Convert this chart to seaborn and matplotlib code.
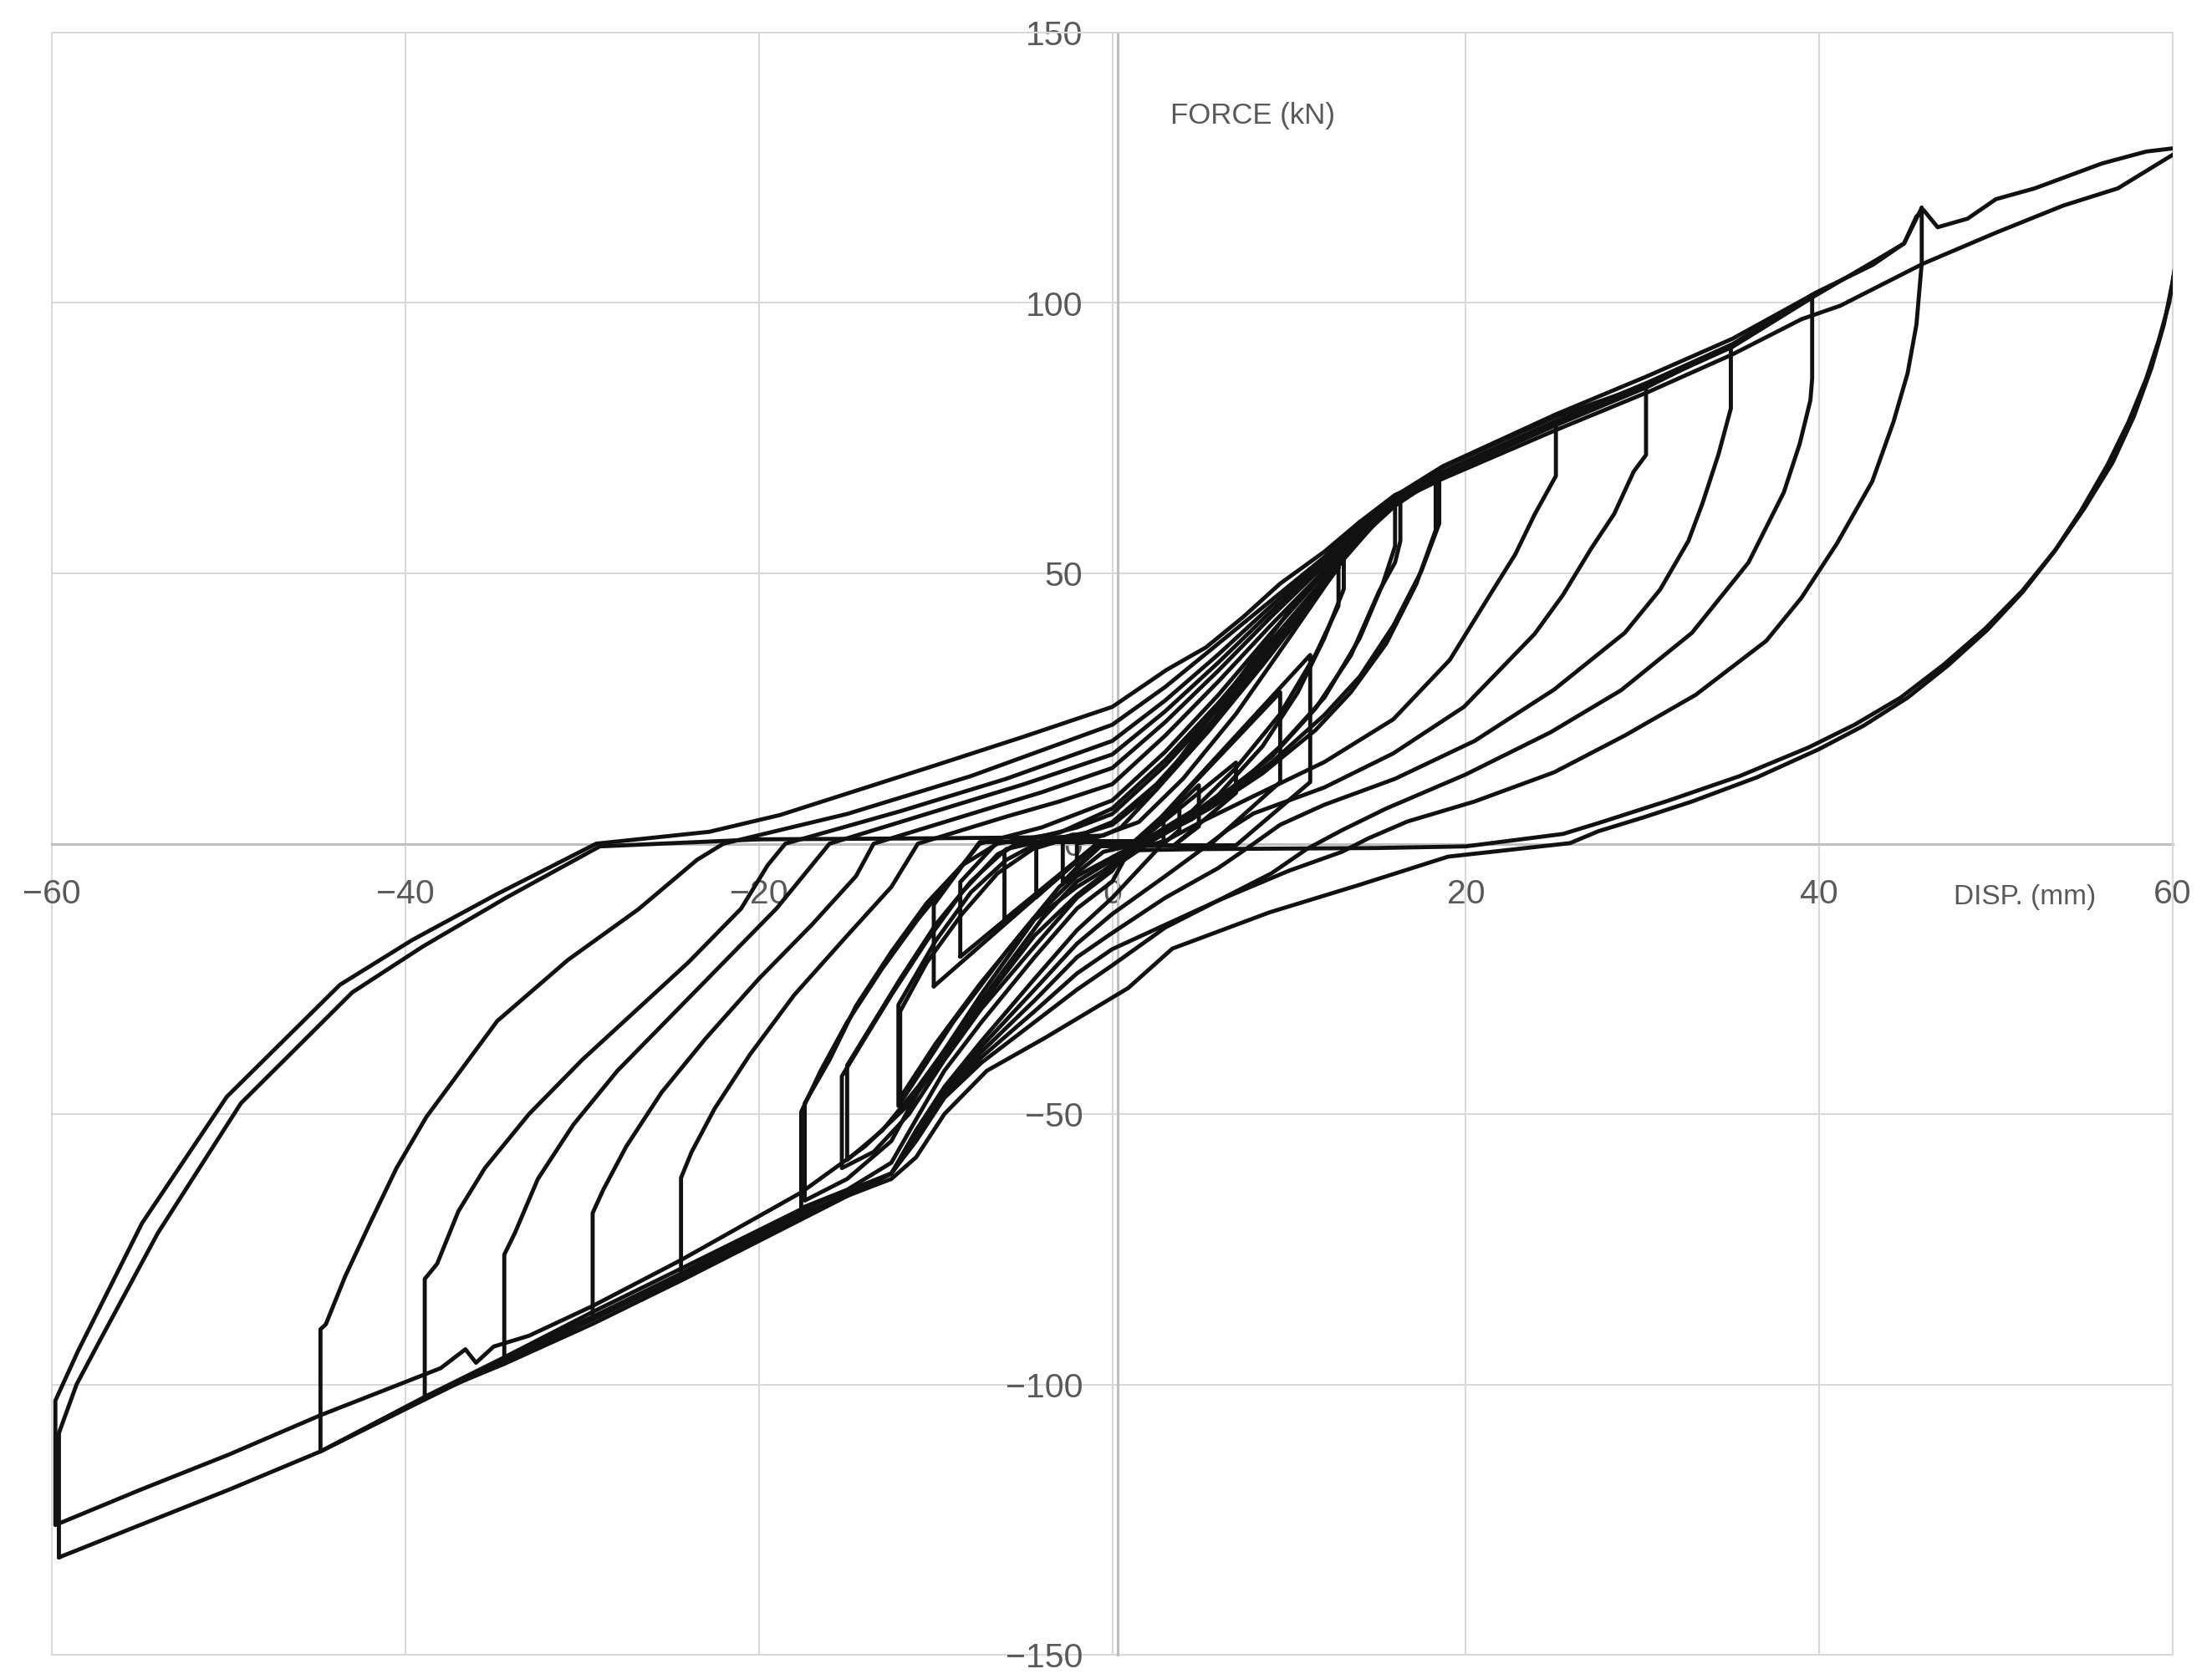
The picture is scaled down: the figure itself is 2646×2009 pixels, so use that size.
import numpy as np
import pandas as pd
import matplotlib
matplotlib.use("Agg")
import matplotlib.pyplot as plt
import seaborn as sns

# ---------------- data ----------------
x_ticks = [-60, -40, -20, 0, 20, 40, 60]
y_ticks = [-150, -100, -50, 0, 50, 100, 150]
x_label = "DISP. (mm)"
y_label = "FORCE (kN)"

# first 60 mm cycle
x60a = [-59.6, -59.6, -58.6, -57.3, -54.0, -49.3, -43.0, -39.0, -34.3, -29.0, -20.0, -10.0, -3.0, -0.5, 0.5, 2.5, 5.0, 7.5, 10.0, 12.0, 14.0, 16.0, 18.7, 25.1, 30.3, 35.1, 39.8, 43.0, 44.8, 45.5, 45.9, 46.7, 48.4, 50.0, 52.2, 56.0, 58.5, 60.3,
        60.3, 60.1, 59.8, 59.2, 58.5, 57.5, 56.3, 54.8, 53.3, 51.5, 49.5, 47.3, 45.0, 42.5, 40.0, 36.5, 32.8, 30.0, 27.5, 25.9,
        19.0, 14.0, 8.9, 3.4, 0.9, -1.7, -3.8, -7.1, -9.5, -11.1, -12.5, -17.6, -24.4, -29.4, -34.4, -38.9, -44.8, -50.0, -55.0, -59.6]
y60a = [-132, -109, -100, -92, -72, -48, -27.5, -19, -10, -0.5, 0.8, 1.0, 1.2, 1.5, 3, 10, 21, 32, 43, 50.6, 58, 64, 68.8, 78.2, 85.3, 92.4, 101.9, 107, 111, 116, 117.2, 114, 115.6, 119.2, 121.2, 125.8, 128, 128.7,
        112.5, 106, 100, 93, 86, 78, 70, 61.5, 54, 46.5, 39.5, 33, 27, 21.8, 17.5, 12.3, 7.8, 4.8, 2.3, 0.1,
        -2.4, -7.6, -12.7, -19.4, -26.7, -31.8, -35.9, -42, -50, -58, -62, -68.4, -79.5, -87.5, -95, -102.3, -112.4, -119.5, -126, -132]

# second 60 mm cycle
x60b = [60.3, 60.3, 60.0, 59.5, 58.8, 57.8, 56.6, 55.0, 53.4, 51.5, 49.4, 47.0, 44.6, 42.0, 39.4, 35.5, 31.5, 27.5, 25.5,
        20.0, 15.0, 10.0, 5.0, 1.5, 0.5, -0.5, -2.0, -4.4, -7.4, -9.5, -11.6, -14.0, -17.6, -24.4, -29.4, -33.0, -35.0, -36.0, -36.6, -38.0, -44.8, -50.0, -55.0, -59.8,
        -59.8, -58.5, -54.9, -50.1, -43.7, -39.6, -34.8, -29.2, -22.8, -18.8, -10.0, -5.0, 0.0, 3.1, 5.3, 7.4, 9.5, 12.0, 14.0, 16.5, 18.7, 25.1, 30.3, 35.1, 39.0, 41.2, 45.9, 50.0, 53.8, 56.9, 60.3]
y60b = [128, 110, 104, 96, 88, 79, 70.5, 62, 54.5, 46.8, 39.8, 33, 27, 22, 17.8, 12.5, 8, 3.8, 1.8,
        -0.5, -0.8, -0.9, -1.0, -1.2, -2.5, -5, -8, -14, -27.8, -38.2, -48.5, -56, -64.5, -77, -85.5, -91, -93, -96, -93.5, -97, -105.7, -113, -119.5, -126,
        -103, -93.7, -70.2, -46.8, -26.1, -17.8, -9.3, 0.0, 2.2, 5.3, 14.5, 19.8, 25.3, 32.2, 36.3, 41.9, 48.1, 54, 59.5, 64, 67.5, 76.5, 83.5, 90.5, 97, 99.5, 107.3, 113, 118, 121.2, 128]

x45 = [45.8, 45.8, 45.5, 45.0, 44.2, 43.0, 41.0, 39.0, 37.0, 33.0, 29.0, 25.0, 20.5, 16.7, 14.5, 13.0, 10.0, 6.0, 3.0, 0.0, -2.0, -4.4, -7.4, -9.5, -11.1, -12.5, -17.6, -24.4, -29.4, -34.4, -38.9, -44.8, -44.8, -44.5, -43.4, -42.0, -40.5, -38.8, -34.8, -30.8, -26.8, -23.5, -22.0, -15.0, -8.0, 0.0, 3.0, 6.0, 9.0, 12.0, 14.0, 16.0, 18.7, 25.1, 30.3, 35.1, 39.8, 43.0, 44.8, 45.8]
y45 = [117.6, 107.4, 96, 87, 78, 67, 55.5, 45.5, 37.5, 27.5, 20, 13.2, 7.8, 4.1, 1.0, -1.5, -5, -10.5, -15.5, -22.5, -27, -33, -40.5, -47, -55, -61, -68.9, -80.0, -88.0, -95.6, -102.8, -112.4, -89.8, -88.9, -80, -70.2, -60, -50.5, -32.8, -21.5, -12.1, -3, 0, 5.5, 12.5, 22, 29, 37, 45, 53, 59.5, 64.5, 68.3, 77.7, 84.8, 91.9, 101.4, 107.5, 111, 117.6]

x40 = [39.6, 39.6, 39.5, 38.9, 38.0, 36.0, 32.8, 28.8, 24.8, 20.0, 15.5, 13.0, 11.0, 9.0, 6.0, 3.0, 0.0, -2.0, -4.4, -7.4, -9.5, -11.1, -12.5, -17.6, -24.4, -29.4, -34.4, -38.9, -38.9, -38.2, -37.0, -35.5, -33.0, -30.0, -27.0, -24.0, -21.0, -19.5, -18.5, -12.0, -6.0, 0.0, 3.0, 6.0, 9.0, 12.0, 14.0, 16.0, 18.7, 25.1, 30.3, 35.1, 39.6]
y40 = [101.5, 86, 82, 74, 65, 52, 39, 28.4, 20.6, 12.8, 6.5, 2.5, -1, -5.5, -10.5, -15, -19.5, -24, -31, -39.5, -46.5, -54.5, -61, -69.5, -80.8, -88.8, -96.2, -102.3, -80.5, -77.7, -68, -60, -50, -40, -31, -22, -12, -4, 0, 6, 12, 19, 26.5, 35, 44, 52.5, 59, 64.3, 69.8, 79.4, 86.5, 93.4, 101.5]

x35 = [35.0, 35.0, 34.3, 33.4, 32.6, 31.0, 29.0, 25.0, 20.5, 16.0, 12.0, 9.5, 8.0, 6.0, 3.0, 0.0, -2.0, -4.4, -7.4, -9.5, -11.1, -12.5, -17.6, -24.4, -29.4, -34.4, -34.4, -33.8, -32.5, -30.5, -28.0, -25.0, -22.0, -19.0, -17.0, -16.0, -10.0, -5.0, 0.0, 3.0, 6.0, 9.0, 12.0, 14.0, 16.0, 18.7, 25.1, 30.3, 35.0]
y35 = [92.2, 80.5, 72, 63, 56, 47, 39, 28.5, 19, 12, 7.2, 3.5, 0, -4.5, -10, -16.5, -21, -29, -38.5, -46, -54, -61, -67.6, -78.6, -86.6, -95, -76, -72, -62, -52, -42, -32, -22, -12, -4, 0, 6, 11, 16.5, 24.5, 33.5, 43, 52, 58.5, 64, 68.1, 77.4, 84.5, 92.2]

x30 = [30.2, 30.2, 29.5, 28.4, 27.1, 25.5, 23.9, 19.9, 15.9, 12.0, 8.0, 6.5, 5.5, 3.0, 0.0, -2.0, -4.4, -7.4, -9.5, -11.1, -12.5, -17.6, -24.4, -29.4, -29.4, -28.8, -27.5, -25.5, -23.0, -20.0, -17.0, -14.5, -13.5, -8.0, -4.0, 0.0, 3.0, 6.0, 9.0, 12.0, 14.0, 16.0, 18.7, 25.1, 30.2]
y30 = [84.8, 71.9, 68.8, 61, 54.6, 46, 38.8, 25.3, 16.7, 10.4, 5.6, 2.5, 0, -6, -13, -18.5, -27, -37.5, -45.5, -53.5, -61, -69.3, -80.4, -87.5, -68.3, -64, -56, -46, -36, -25, -15, -6, 0, 5.5, 9.5, 14, 22.5, 32, 42, 51.5, 58.3, 63.8, 69.6, 79.0, 84.8]

x25 = [25.1, 25.1, 23.9, 22.8, 21.5, 19.1, 15.9, 12.0, 8.0, 5.0, 3.0, 2.0, 0.0, -2.0, -4.4, -7.4, -9.5, -11.1, -12.5, -17.6, -24.4, -24.4, -23.8, -22.5, -20.5, -18.0, -15.0, -12.5, -11.0, -6.0, -3.0, 0.0, 3.0, 6.0, 9.0, 12.0, 14.0, 16.0, 18.7, 25.1]
y25 = [78, 68, 60.9, 53.5, 46.7, 34, 23, 15.1, 8.8, 4, 0.5, -3, -10, -16, -25, -36.5, -45, -53, -61, -67.7, -79.5, -61.8, -57, -49, -39, -28, -17, -8, 0, 5, 7.8, 11, 20, 30, 40.5, 50.5, 57.8, 63.5, 68.2, 78]

x18 = [18.5, 18.5, 17.5, 15.9, 14.0, 12.0, 9.0, 6.0, 3.0, 1.0, 0.0, -2.0, -4.4, -7.4, -9.5, -11.1, -12.5, -15.0, -17.6, -17.6, -16.5, -15.0, -13.0, -11.0, -9.0, -7.5, -4.0, 0.0, 3.0, 6.0, 9.0, 12.0, 14.0, 16.0, 18.5]
y18 = [68.8, 59.2, 50.5, 40.3, 30.9, 23.8, 15, 8, 2.5, -1, -7, -12, -21, -33, -42, -51, -59, -64, -67.4, -49.6, -42, -33, -23, -14, -6, 0, 3, 8, 17, 27.5, 39, 50, 57, 63, 68.8]

x18b = [18.3, 18.3, 17.2, 15.5, 13.5, 11.5, 8.5, 5.5, 2.5, 0.0, -2.0, -4.4, -7.0, -9.0, -11.0, -12.5, -15.0, -17.4, -17.4, -16.0, -14.5, -12.5, -10.5, -8.5, -6.5, -3.0, 0.0, 3.0, 6.0, 9.0, 12.0, 14.0, 16.0, 18.3]
y18b = [67.5, 58, 48, 37, 28, 21, 13, 6.5, 1, -4.5, -9.5, -17, -28, -37, -46, -55, -62, -66, -48, -40, -30, -20, -11, -4, 0, 2, 6.5, 15.5, 26, 37.5, 49, 56.5, 62.5, 67.5]

x16 = [16.3, 16.3, 16.0, 15.1, 13.5, 11.5, 9.0, 6.0, 3.0, 1.0, 0.0, -2.0, -4.4, -7.4, -9.5, -11.5, -13.5, -15.3, -15.3, -14.0, -12.5, -10.5, -8.5, -6.5, -5.0, -2.0, 0.0, 3.0, 6.0, 9.0, 12.0, 14.0, 16.3]
y16 = [64.5, 56, 52, 46.7, 34.8, 25, 16, 8.5, 2.5, -0.5, -5, -10, -19, -30.5, -40, -50, -57, -60, -43, -36, -28, -18, -9, -2, 0.5, 3, 5.5, 14.5, 25, 37, 48.5, 56, 64.5]

x16b = [16.0, 16.0, 15.3, 14.0, 12.0, 9.5, 7.0, 4.5, 2.0, 0.0, -2.0, -4.0, -6.5, -9.0, -11.0, -13.0, -15.0, -15.0, -13.5, -12.0, -10.0, -8.0, -6.0, -4.0, -1.5, 0.0, 2.5, 5.0, 8.0, 11.0, 13.5, 16.0]
y16b = [63.5, 55, 48, 38, 27, 18, 10.5, 4.5, 0.5, -3, -7, -14, -25, -36, -45, -53, -58.5, -41, -33, -25, -15, -7, -1, 0.5, 2, 4, 11, 20, 32, 44.5, 54.5, 63.5]

x13 = [13.1, 13.1, 12.0, 10.5, 8.5, 6.0, 3.5, 1.5, -0.5, -3.0, -6.0, -9.0, -12.1, -12.1, -10.0, -8.0, -6.0, -4.0, -1.0, 1.5, 4.0, 7.0, 10.0, 13.1]
y13 = [52.7, 47.1, 38, 28, 18, 9, 3, 0, -1.5, -8, -20, -33, -48.5, -29.8, -18, -9, -3, 0.5, 1, 4, 12, 24, 38, 52.7]

x13b = [12.8, 12.8, 11.5, 9.5, 7.0, 4.5, 2.0, 0.0, -2.0, -4.5, -7.5, -10.0, -12.0, -12.0, -10.5, -8.5, -6.5, -4.5, -2.0, 0.0, 2.5, 5.5, 8.5, 11.0, 12.8]
y13b = [51, 44, 35, 24, 14, 6, 1, -2.5, -6, -14, -26, -37, -47, -31, -22, -13, -5.5, -1, 1.5, 3.5, 10, 21, 33, 43.5, 51]

x11 = [-10.1, -10.1, -7.5, 1.5, 11.2, 11.2, 7.0, -1.0, -10.1]
y11 = [-26.4, -11.3, 0.3, 0.4, 34.9, 11.4, -0.3, -0.4, -26.4]
x9 = [-8.6, -8.6, -6.5, 1.5, 9.5, 9.5, 5.5, -1.0, -8.6]
y9 = [-20.9, -7.1, 0.3, 0.4, 28, 11.4, -0.3, -0.4, -20.9]
x7 = [-6.1, -6.1, -5.3, 1.5, 7.0, 7.0, 3.5, -1.0, -6.1]
y7 = [-14, -1.5, 0.3, 0.4, 15, 9.4, -0.3, -0.4, -14]
x5 = [-4.3, -4.3, -3.8, 1.5, 4.9, 4.9, 3.5, -1.0, -4.3]
y5 = [-9.9, -0.2, 0.3, 0.4, 10.8, 3.2, -0.3, -0.4, -9.9]
x4 = [-2.8, -2.8, -2.0, 1.5, 3.8, 3.8, 2.8, -0.8, -2.8]
y4 = [-7.1, 0.5, 0.5, 0.4, 6.6, 2.5, -0.3, -0.4, -7.1]
x3 = [-2.0, -2.0, -1.5, 1.2, 2.9, 2.9, 2.2, -0.6, -2.0]
y3 = [-4.5, 0.0, 0.3, 0.3, 5.3, 0.5, -0.3, -0.3, -4.5]

cycles = [
    ("3", x3, y3), ("4", x4, y4), ("5", x5, y5), ("7", x7, y7),
    ("9", x9, y9), ("11", x11, y11), ("13", x13, y13), ("13b", x13b, y13b),
    ("16", x16, y16), ("16b", x16b, y16b), ("18", x18, y18), ("18b", x18b, y18b),
    ("25", x25, y25), ("30", x30, y30), ("35", x35, y35),
    ("40", x40, y40), ("45", x45, y45), ("60a", x60a, y60a), ("60b", x60b, y60b),
]

frames = []
for name, xs, ys in cycles:
    frames.append(pd.DataFrame({"disp": xs, "force": ys, "cycle": name,
                                "step": np.arange(len(xs))}))
df = pd.concat(frames, ignore_index=True)

# ---------------- styling ----------------
sns.set_theme(style="white")
plt.rcParams["font.family"] = ["Liberation Sans", "DejaVu Sans"]
plt.rcParams["axes.unicode_minus"] = True

W, H = 2646, 2009
fig = plt.figure(figsize=(W / 100, H / 100), dpi=100)
x0, x1 = 62, 2599
y0, y1 = 39, 1980
ax = fig.add_axes([x0 / W, 1 - y1 / H, (x1 - x0) / W, (y1 - y0) / H])
ax.set_xlim(-60, 60)
ax.set_ylim(-150, 150)

grid_c = "#d9d9d9"
axis_c = "#bfbfbf"
text_c = "#595959"

ax.set_xticks(x_ticks)
ax.set_yticks(y_ticks)
ax.set_xticklabels([f"{v}".replace("-", "\u2212") for v in x_ticks])
ax.set_yticklabels([f"{v}".replace("-", "\u2212") for v in y_ticks])
ax.grid(True, color=grid_c, linewidth=1.5, zorder=0)
ax.set_axisbelow(True)

for s in ["top", "right"]:
    ax.spines[s].set_color(grid_c)
    ax.spines[s].set_linewidth(1.5)
ax.spines["left"].set_position(("data", 0.3))
ax.spines["bottom"].set_position(("data", 0))
ax.spines["left"].set_color(axis_c)
ax.spines["bottom"].set_color(axis_c)
ax.spines["left"].set_linewidth(2.2)
ax.spines["bottom"].set_linewidth(2.2)
ax.spines["left"].set_zorder(1)
ax.spines["bottom"].set_zorder(1)

# outer frame on the left and bottom
ax.plot([0, 0], [0, 1], transform=ax.transAxes, color=grid_c, lw=1.5, clip_on=False, zorder=0)
ax.plot([0, 1], [0, 0], transform=ax.transAxes, color=grid_c, lw=1.5, clip_on=False, zorder=0)

ax.tick_params(axis="x", length=0, pad=30, labelsize=29.5, labelcolor=text_c)
ax.tick_params(axis="y", length=0, pad=30, labelsize=29.5, labelcolor=text_c)

sns.lineplot(data=df, x="disp", y="force", units="cycle", estimator=None,
             sort=False, color="#111111", linewidth=3.5, legend=False, ax=ax,
             zorder=3)
ax.set_xlabel("")
ax.set_ylabel("")

ax.text(3.3, 134.6, y_label, fontsize=25, color=text_c, ha="left", va="center")
ax.text(47.6, -9.9, x_label, fontsize=24, color=text_c, ha="left", va="center")

fig.savefig("out.png", dpi=100)
